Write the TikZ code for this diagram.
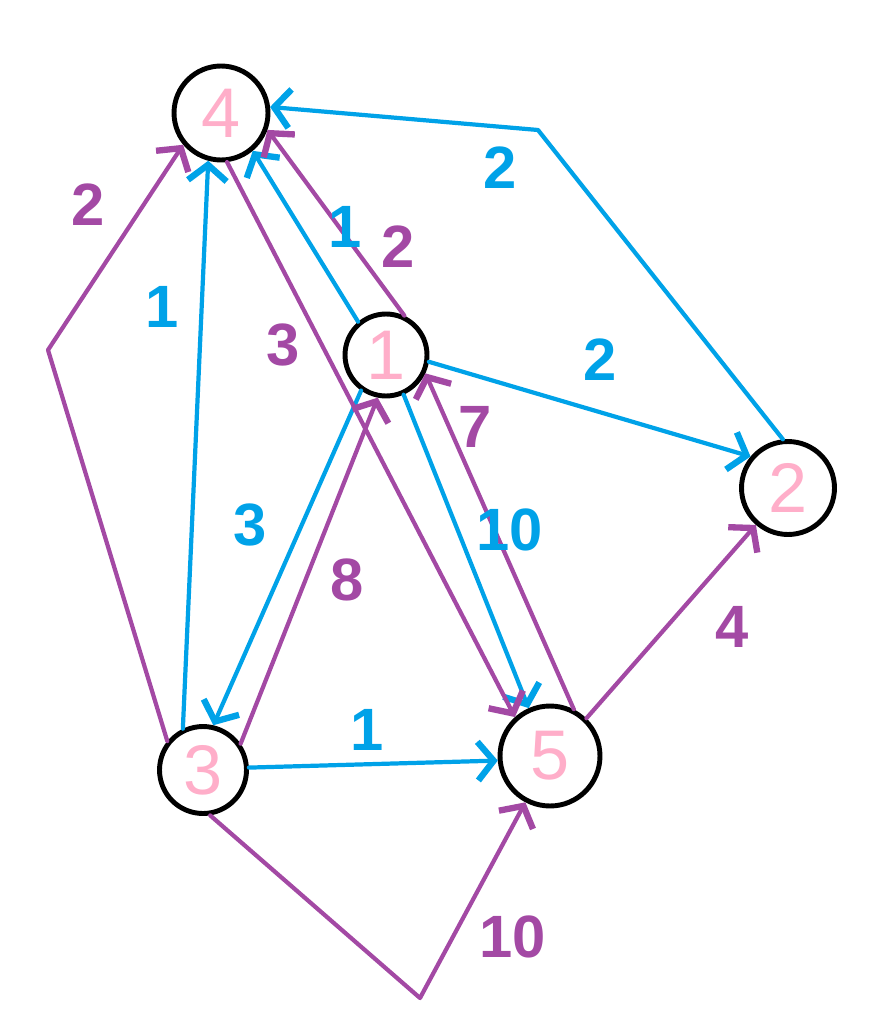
\documentclass[tikz,border=0pt]{standalone}
\usepackage{fontspec}
\setmainfont{Liberation Sans}
\usetikzlibrary{arrows.meta}
\definecolor{paintblue}{HTML}{00A2E8}
\definecolor{paintpurple}{HTML}{A349A4}
\definecolor{paintpink}{HTML}{FFAEC9}
\begin{document}
\begin{tikzpicture}[x=0.02cm, y=-0.02cm, line cap=round, line join=round,
    vertex/.style={draw, circle, line width=2.8pt, inner sep=0pt, text=paintpink,
      font=\fontsize{40}{40}\selectfont},
    edge/.style={line width=2.4pt, -{Straight Barb[length=9pt, width=22pt, line width=3.6pt]}},
    wlabel/.style={font=\fontsize{34}{34}\selectfont\bfseries}]
  \useasboundingbox (0,0) rectangle (880,1027);
  \node[vertex, minimum size=1.88cm] (n4) at (221,113) {4};
  \node[vertex, minimum size=1.64cm] (n1) at (386,355) {1};
  \node[vertex, minimum size=1.86cm] (n2) at (788,488) {2};
  \node[vertex, minimum size=1.74cm] (n3) at (203,770) {3};
  \node[vertex, minimum size=2.0cm] (n5) at (550,756) {5};
  \coordinate (b24) at (538,130);
  \coordinate (b34) at (48,350);
  \coordinate (b35) at (420,998);
  \foreach \a/\b/\c in {n1.130/n4.-50/paintblue, n1.65/n4.-20/paintpurple,
      n1.-9/n2.140/paintblue, n1.-125/n3.77/paintblue, n3.35/n1.-101/paintpurple,
      n1.-66/n5.114/paintblue, n5.63/n1.-25/paintpurple, n4.-83/n5.132/paintpurple,
      n3.116/n4.-105/paintblue, n3.3/n5.185/paintblue, n5.46/n2.-131/paintpurple}
    \draw[edge, \c] (\a) -- (\b);
  \draw[edge, paintblue] (n2.96) -- (b24) -- (n4.7);
  \draw[edge, paintpurple] (n3.141) -- (b34) -- (n4.-140);
  \draw[edge, paintpurple] (n3.-81) -- (b35) -- (n5.-118);
  \foreach \n/\x/\y/\t/\c in {w24/500/168/2/paintblue, w14a/345/227/1/paintblue,
      w14b/398/247/2/paintpurple, w12/600/360/2/paintblue, w13/250/525/3/paintblue,
      w31/347/580/8/paintpurple, w15/510/530/10/paintblue, w51/475/427/7/paintpurple,
      w45/283/345/3/paintpurple, w34a/162/307/1/paintblue, w34b/88/205/2/paintpurple,
      w35a/367/730/1/paintblue, w52/732/627/4/paintpurple, w35b/513/937/10/paintpurple}
    \node[wlabel, text=\c] (\n) at (\x,\y) {\t};
\end{tikzpicture}
\end{document}
